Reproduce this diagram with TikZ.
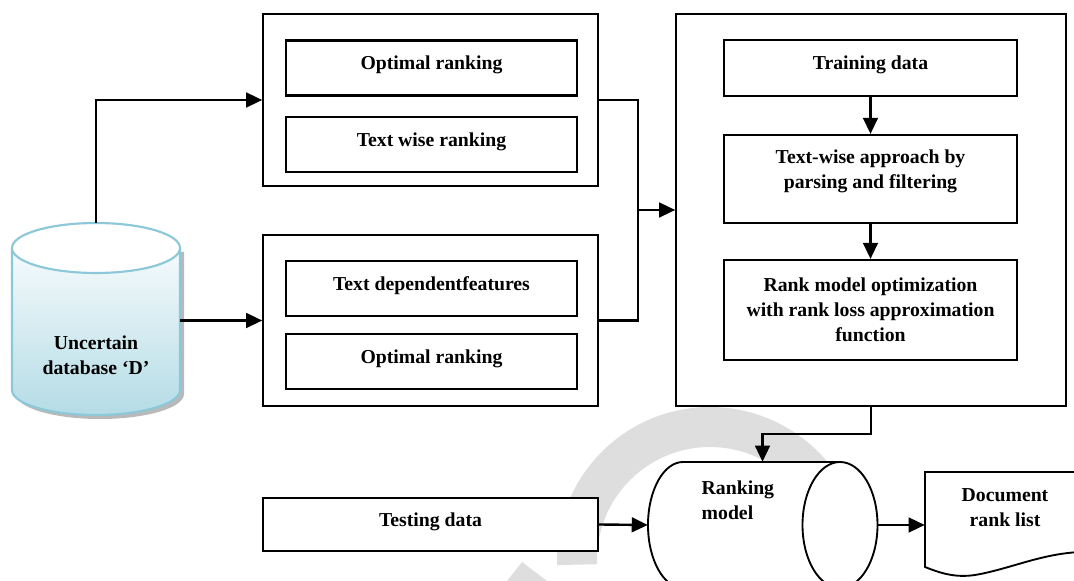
\documentclass[tikz,border=0pt]{standalone}
\usepackage{fontspec}
\setmainfont{Liberation Serif}
\usetikzlibrary{arrows.meta}
\newdimen\unitsize
\setlength{\unitsize}{0.75pt}
\definecolor{dbline}{HTML}{8CC8D8}
\definecolor{dbfill}{HTML}{B4DCE6}
\definecolor{wmark}{HTML}{DEDEDE}

\begin{document}
\begin{tikzpicture}[x=\unitsize,y=\unitsize,font=\bfseries\fontsize{14.8}{18.75}\selectfont]
\tikzset{outerbox/.style={draw, line width=1.2pt, fill=white, minimum width=335*\unitsize}}%
\tikzset{oneline/.style={text height=10pt, text depth=7.5pt}}%
\tikzset{innerbox/.style={draw, line width=1.6pt, fill=white, oneline, minimum width=291*\unitsize, minimum height=55*\unitsize}}%
\tikzset{stepbox/.style={draw, line width=1.6pt, fill=white, minimum width=293*\unitsize, align=center}}%
\tikzset{link/.style={line width=1.8pt, -{Triangle[length=12pt,width=11pt]}}}%
\useasboundingbox (0,0) rectangle (1074,581);
\clip (0,0) rectangle (1074,581);
% watermark
\draw[wmark, line width=30pt] (710,21) ++(182:133) arc[start angle=182, end angle=30, radius=133];
\fill[wmark] (507,0) -- (522,19) -- (547,0) -- cycle;
% database
\fill[gray!55] (16,329) -- (16,187) arc[start angle=180, end angle=360, x radius=84, y radius=25] -- (184,329) -- cycle;
\shade[top color=white, bottom color=dbfill] (12,333) -- (12,191) arc[start angle=180, end angle=360, x radius=84, y radius=25] -- (180,333) arc[start angle=0, end angle=180, x radius=84, y radius=25] -- cycle;
\draw[dbline, line width=1.6pt] (12,333) -- (12,191) arc[start angle=180, end angle=360, x radius=84, y radius=25] -- (180,333);
\draw[dbline, line width=1.6pt, fill=white] (96,333) ellipse[x radius=84, y radius=25];
\node[minimum width=168*\unitsize, minimum height=192*\unitsize] (db) at (96,262) {};
\node[align=center] (dbtext) at (96,226) {Uncertain\\database `D'};
% left group
\node[outerbox, minimum height=172*\unitsize] (box1) at (430.5,481) {};
\node[innerbox] (opt1) at (431.5,513) {Optimal ranking};
\node[innerbox] (twr) at (431.5,436.5) {Text wise ranking};
\node[outerbox, minimum height=171*\unitsize] (box2) at (430.5,260.5) {};
\node[innerbox] (tdf) at (431.5,292.5) {Text dependentfeatures};
\node[innerbox] (opt2) at (431.5,219.5) {Optimal ranking};
% right group
\node[outerbox, minimum width=390*\unitsize, minimum height=392*\unitsize] (big) at (871,371) {};
\node[stepbox, oneline, minimum height=56*\unitsize] (train) at (870.5,513) {Training data};
\node[stepbox, minimum height=88*\unitsize] (twa) at (870.5,402) {};
\node[align=center] (twatext) at (870.5,409.5) {Text-wise approach by\\parsing and filtering};
\node[stepbox, minimum height=100*\unitsize] (rmo) at (870.5,271) {Rank model optimization\\with rank loss approximation\\function};
% bottom row
\node[innerbox, minimum width=335*\unitsize, minimum height=53*\unitsize] (test) at (430.5,56.5) {Testing data};
\fill[white] (840,119) -- (683,119) arc[start angle=90, end angle=270, x radius=35, y radius=63] -- (840,-7) -- cycle;
\draw[line width=1.4pt] (840,119) -- (683,119) arc[start angle=90, end angle=270, x radius=35, y radius=63] -- (840,-7);
\draw[line width=1.4pt, fill=white] (840,56) ellipse[x radius=37.5, y radius=63];
\node[minimum width=229*\unitsize, minimum height=126*\unitsize] (rm) at (762.5,56) {};
\node[align=left, anchor=west] (rmtext) at (697,81) {Ranking\\model};
\fill[white] (925,14) -- (925,109) -- (1080,109) -- (1080,29) .. controls (1040,27) and (1010,12) .. (975,6) .. controls (955,3) and (940,8) .. (925,14);
\draw[line width=1.4pt] (1080,109) -- (925,109) -- (925,14) .. controls (940,8) and (955,3) .. (975,6) .. controls (1010,12) and (1040,27) .. (1080,29);
\node[minimum width=155*\unitsize, minimum height=95*\unitsize] (doc) at (1002.5,61.5) {};
\node[align=center] (doctext) at (1005,73) {Document\\rank list};
% connectors
\draw[link] (db.north) |- (box1.west);
\draw[link] (db.east |- box2.west) -- (box2.west);
\draw[line width=1.8pt] (box1.east) -- ++(39,0) |- (box2.east);
\coordinate (merge) at (637,371);
\draw[link] (merge) -- (big.west);
\draw[link] (train) -- (twa);
\draw[link] (twa) -- (rmo);
\draw[link] (big.south) -- ++(0,-27) -| (rm.north);
\draw[link] (test.east) -- (rm.west);
\draw[link] (rm.east) -- (rm.east -| doc.west);
\end{tikzpicture}
\end{document}
